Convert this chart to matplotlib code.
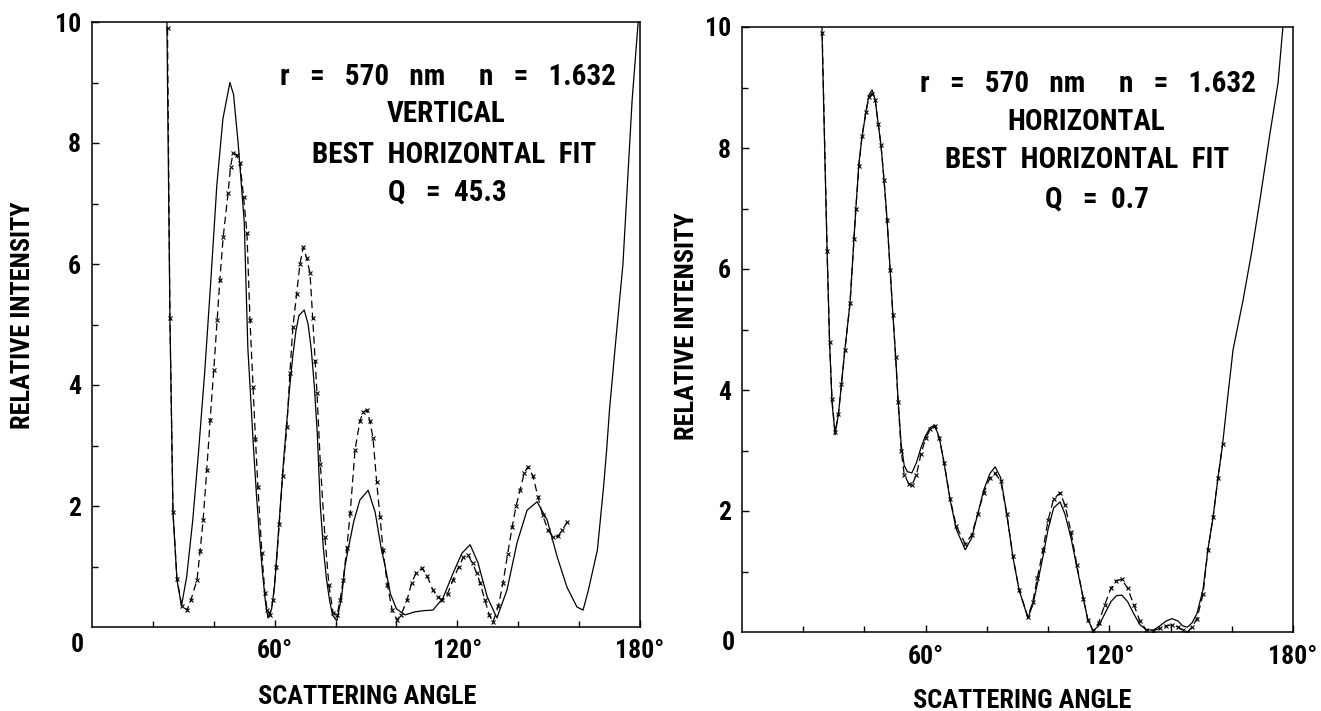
import os
import matplotlib
matplotlib.use("Agg")
import matplotlib.pyplot as plt
from matplotlib import font_manager
from matplotlib.font_manager import FontProperties

# ---------------- data ----------------
# Left panel: vertical polarisation, theory (solid) and measured (dashed)
v_theory_angle = [24.6, 25.6, 26.6, 27.9, 29.4, 31.1, 33.1, 35.0, 37.0, 39.0, 41.0, 43.0,
                  45.3, 46.5, 48.0, 50.0, 51.2, 52.0, 53.0, 54.0, 55.0, 56.0, 57.0, 57.8,
                  59.0, 60.0, 61.0, 62.0, 63.0, 64.0, 65.0, 66.0, 67.0, 68.0, 69.7, 71.0,
                  72.0, 73.0, 74.0, 75.0, 76.0, 77.0, 78.0, 79.0, 80.4, 82.0, 83.1, 84.0,
                  86.0, 88.0, 90.7, 93.0, 95.0, 96.3, 98.0, 100.0, 102.8, 106.0, 109.0, 112.0,
                  115.3, 118.6, 121.5, 124.2, 126.8, 129.8, 133.0, 136.3, 139.6, 142.9, 146.2, 149.5,
                  152.8, 156.0, 159.3, 161.3, 163.0, 166.0, 168.0, 169.0, 170.0, 171.8, 174.4, 177.4,
                  179.4]
v_theory = [10.0, 5.1, 1.9, 0.78, 0.35, 0.83, 1.77, 2.9, 4.2, 5.7, 7.3, 8.4,
            9.0, 8.8, 8.0, 6.7, 4.6, 3.9, 3.0, 2.2, 1.5, 0.9, 0.4, 0.15,
            0.3, 0.7, 1.4, 2.1, 2.8, 3.4, 4.0, 4.5, 4.9, 5.15, 5.24, 5.0,
            4.6, 4.0, 3.2, 2.0, 1.3, 0.8, 0.45, 0.2, 0.1, 0.5, 1.0, 1.25,
            1.75, 2.1, 2.26, 1.9, 1.3, 1.0, 0.55, 0.3, 0.2, 0.25, 0.27, 0.28,
            0.48, 0.89, 1.22, 1.36, 1.06, 0.5, 0.15, 0.61, 1.39, 1.93, 2.07, 1.77,
            1.16, 0.66, 0.33, 0.28, 0.6, 1.27, 2.3, 2.9, 3.6, 4.6, 6.0, 8.7,
            10.0]

v_meas_angle = [24.8, 25.6, 26.6, 27.9, 29.5, 31.2, 32.5, 34.5, 35.5, 36.5, 37.7, 38.8,
                40.0, 41.1, 42.0, 43.1, 44.7, 45.5, 46.3, 47.5, 48.6, 49.8, 50.9, 51.9,
                52.9, 53.7, 54.5, 55.8, 56.8, 57.5, 58.5, 59.5, 60.5, 61.5, 62.6, 64.0,
                65.0, 66.0, 67.2, 68.3, 69.4, 70.5, 71.6, 72.5, 73.3, 73.9, 75.0, 76.5,
                77.8, 79.2, 80.5, 81.5, 82.5, 83.7, 84.8, 86.4, 88.0, 89.0, 90.3, 91.3,
                92.3, 93.5, 94.6, 95.6, 97.0, 98.6, 100.2, 101.5, 103.5, 105.0, 106.5, 108.4,
                110.0, 112.0, 113.5, 115.0, 116.8, 118.6, 120.5, 122.0, 123.5, 125.0, 126.3, 127.5,
                129.0, 130.5, 131.7, 133.5, 135.0, 136.5, 138.0, 139.3, 140.6, 142.0, 143.2, 144.8,
                146.5, 148.0, 149.8, 151.5, 153.0, 154.5, 156.0]
v_meas = [9.9, 5.1, 1.9, 0.8, 0.35, 0.28, 0.45, 0.78, 1.25, 1.77, 2.6, 3.42,
          4.25, 5.07, 5.74, 6.45, 7.17, 7.6, 7.83, 7.8, 7.67, 7.1, 6.51, 5.07,
          3.97, 3.1, 2.31, 1.22, 0.56, 0.28, 0.2, 0.45, 1.0, 1.7, 2.5, 3.3,
          4.2, 4.96, 5.5, 6.0, 6.28, 6.1, 5.85, 5.1, 4.4, 3.87, 2.7, 1.49,
          0.7, 0.23, 0.2, 0.45, 0.78, 1.3, 1.88, 2.93, 3.4, 3.55, 3.59, 3.4,
          3.12, 2.4, 1.82, 1.27, 0.7, 0.28, 0.12, 0.2, 0.45, 0.73, 0.9, 0.97,
          0.85, 0.61, 0.5, 0.45, 0.55, 0.78, 1.0, 1.15, 1.19, 1.05, 0.9, 0.73,
          0.45, 0.2, 0.08, 0.35, 0.73, 1.2, 1.65, 2.0, 2.26, 2.55, 2.65, 2.5,
          2.15, 1.85, 1.6, 1.49, 1.5, 1.6, 1.73]

# Right panel: horizontal polarisation, theory (solid) and measured (dashed)
h_theory_angle = [26.1, 27.0, 27.8, 28.6, 29.4, 30.4, 31.5, 32.5, 33.6, 35.3, 36.6, 37.2,
                  38.2, 39.2, 40.5, 41.5, 42.5, 43.5, 44.5, 45.4, 46.4, 47.4, 48.4, 49.3,
                  50.2, 51.0, 52.0, 53.0, 54.0, 55.5, 57.0, 58.5, 60.0, 61.5, 63.0, 64.5,
                  66.0, 68.0, 70.0, 72.9, 75.0, 77.0, 79.0, 81.0, 82.7, 84.5, 86.5, 88.5,
                  90.5, 93.4, 95.0, 96.5, 98.3, 100.0, 101.8, 103.9, 105.5, 107.5, 109.4, 111.5,
                  113.0, 114.7, 116.5, 118.5, 120.5, 122.3, 124.1, 126.0, 128.0, 130.0, 132.0, 134.3,
                  136.5, 138.5, 140.5, 142.5, 144.0, 145.5, 147.0, 148.6, 150.6, 152.2, 153.9, 155.5,
                  157.0, 158.6, 160.4, 163.7, 166.6, 169.2, 172.5, 175.1, 176.7]
h_theory = [10.0, 8.0, 6.3, 4.8, 3.8, 3.26, 3.6, 4.1, 4.66, 5.44, 6.53, 7.0,
            7.75, 8.18, 8.6, 8.88, 8.96, 8.8, 8.4, 8.05, 7.47, 6.81, 5.98, 5.24,
            4.55, 3.83, 3.1, 2.75, 2.65, 2.63, 2.8, 3.05, 3.25, 3.38, 3.42, 3.2,
            2.8, 2.18, 1.7, 1.36, 1.55, 1.95, 2.35, 2.62, 2.73, 2.55, 1.95, 1.24,
            0.7, 0.23, 0.45, 0.8, 1.24, 1.7, 2.05, 2.15, 1.95, 1.55, 1.07, 0.55,
            0.2, 0.02, 0.1, 0.3, 0.5, 0.6, 0.61, 0.5, 0.3, 0.12, 0.04, 0.03,
            0.1, 0.18, 0.22, 0.18, 0.1, 0.08, 0.15, 0.3, 0.7, 1.36, 1.9, 2.55,
            3.1, 3.85, 4.66, 5.49, 6.31, 7.14, 8.25, 9.07, 10.0]

h_meas_angle = [26.2, 27.8, 28.6, 29.4, 30.4, 31.5, 32.5, 33.6, 35.3, 36.6, 37.2, 38.2,
                39.2, 40.5, 41.5, 42.5, 43.5, 44.5, 45.4, 46.4, 47.4, 48.4, 49.3, 50.2,
                51.0, 52.0, 53.0, 54.5, 55.5, 57.0, 58.5, 60.0, 61.5, 63.0, 64.5, 66.0,
                68.0, 70.0, 72.9, 75.0, 77.0, 79.0, 81.0, 82.7, 84.5, 86.5, 88.5, 90.5,
                93.4, 95.0, 96.5, 98.3, 100.0, 101.8, 103.9, 105.5, 107.5, 109.4, 111.5, 113.0,
                114.7, 116.5, 118.5, 120.5, 122.3, 124.1, 126.0, 128.0, 130.0, 132.0, 134.3, 136.5,
                138.5, 140.5, 142.5, 144.0, 145.5, 147.0, 148.6, 150.6, 152.2, 153.9, 155.5, 157.0]
h_meas = [9.9, 6.3, 4.8, 3.85, 3.3, 3.6, 4.1, 4.66, 5.44, 6.5, 7.0, 7.7,
          8.2, 8.6, 8.85, 8.9, 8.8, 8.4, 8.05, 7.47, 6.81, 5.98, 5.24, 4.55,
          3.8, 3.0, 2.6, 2.45, 2.43, 2.6, 2.95, 3.2, 3.35, 3.4, 3.2, 2.8,
          2.2, 1.75, 1.46, 1.6, 1.95, 2.3, 2.55, 2.62, 2.5, 1.95, 1.25, 0.7,
          0.25, 0.5, 0.9, 1.35, 1.85, 2.2, 2.3, 2.1, 1.65, 1.1, 0.55, 0.2,
          0.02, 0.15, 0.45, 0.72, 0.85, 0.87, 0.72, 0.45, 0.18, 0.04, 0.02, 0.06,
          0.1, 0.12, 0.08, 0.03, 0.0, 0.08, 0.22, 0.62, 1.36, 1.9, 2.55, 3.1]

x_major = [60, 120, 180]
x_major_labels = ["60°", "120°", "180°"]
x_minor = [20, 40, 80, 100, 140, 160]
y_major = [2, 4, 6, 8, 10]
y_minor = [1, 3, 5, 7, 9]

left_title = ["r   =   570   nm     n   =   1.632", "VERTICAL",
              "BEST  HORIZONTAL  FIT", "Q   =  45.3"]
right_title = ["r   =   570   nm     n   =   1.632", "HORIZONTAL",
               "BEST  HORIZONTAL  FIT", "Q   =  0.7"]
x_label = "SCATTERING ANGLE"
y_label = "RELATIVE INTENSITY"

# ---------------- font: prefer a narrow / condensed bold face ----------------
prefs = ["liberationsansnarrow-bold", "robotocondensed-bold", "opensanscondensed-bold",
         "opensans_condensed-bold", "dejavusanscondensed-bold"]
font_file = None
files = [f.fname for f in font_manager.fontManager.ttflist]
for p in prefs:
    for fn in files:
        b = os.path.basename(fn).lower().replace(" ", "")
        if b.startswith(p) and "italic" not in b and "oblique" not in b:
            font_file = fn
            break
    if font_file:
        break
if font_file is None:
    for fn in files:
        b = os.path.basename(fn).lower()
        if ("condensed" in b or "narrow" in b) and "bold" in b and "italic" not in b \
                and "oblique" not in b and "semi" not in b and "extra" not in b:
            font_file = fn
            break


def fp(size):
    if font_file:
        return FontProperties(fname=font_file, size=size)
    return FontProperties(family="DejaVu Sans", weight="bold", stretch="condensed", size=size)


W, H = 1321, 711
fig = plt.figure(figsize=(W / 100, H / 100), dpi=100)
renderer = fig.canvas.get_renderer()


def text_width(s, size):
    t = fig.text(0, 0, s, fontproperties=fp(size))
    w = t.get_window_extent(renderer).width
    t.remove()
    return w


def fit_size(s, target_w, cap_px, widen=1.1):
    sw = 20.0 * target_w / text_width(s, 20.0)
    return min(sw * widen, cap_px)


title_size = fit_size("BEST HORIZONTAL FIT", 288, 21, 1.05)
tick_size = fit_size("120°", 40, 18.5, 1.3)
label_size = fit_size(x_label, 183, 19, 1.22)


def px_axes(x0, x1, y_top, y_bot):
    return fig.add_axes([x0 / W, 1 - y_bot / H, (x1 - x0) / W, (y_bot - y_top) / H])


def style_axes(ax):
    ax.set_xlim(0, 180)
    ax.set_ylim(0, 10)
    ax.set_xticks(x_major)
    ax.set_xticklabels(x_major_labels, fontproperties=fp(tick_size))
    ax.set_xticks(x_minor, minor=True)
    ax.set_yticks(y_major)
    ax.set_yticklabels([str(v) for v in y_major], fontproperties=fp(tick_size))
    ax.set_yticks(y_minor, minor=True)
    ax.tick_params(which="both", direction="in", width=1.0, color="black")
    ax.tick_params(which="major", length=5)
    ax.tick_params(which="minor", length=4)
    ax.tick_params(axis="x", pad=9)
    ax.tick_params(axis="y", pad=8)
    for s in ax.spines.values():
        s.set_linewidth(1.1)
        s.set_color("black")


def draw(ax, ta, tv, ma, mv):
    ax.plot(ta, tv, color="black", lw=0.9, solid_joinstyle="round")
    ax.plot(ma, mv, color="black", lw=0.9, linestyle=(0, (6, 3.5)),
            marker="x", markersize=3.2, markeredgewidth=0.8)


ax1 = px_axes(92, 640, 22, 627)
style_axes(ax1)
draw(ax1, v_theory_angle, v_theory, v_meas_angle, v_meas)

ax2 = px_axes(742, 1293, 27, 632)
style_axes(ax2)
draw(ax2, h_theory_angle, h_theory, h_meas_angle, h_meas)


def ftext(x, y, s, size, **kw):
    fig.text(x / W, 1 - y / H, s, fontproperties=fp(size), **kw)


# titles (pixel centre x, baseline y)
for s, xc, yb in zip(left_title, [448, 446, 454, 447], [85, 122, 163, 200]):
    ftext(xc, yb, s, title_size, ha="center", va="baseline")
for s, xc, yb in zip(right_title, [1088, 1086, 1087, 1097], [92, 130, 168, 207]):
    ftext(xc, yb, s, title_size, ha="center", va="baseline")

# origin "0" labels
ftext(77, 652, "0", tick_size, ha="center", va="baseline")
ftext(728, 650, "0", tick_size, ha="center", va="baseline")

# axis labels
ftext(367, 704, x_label, label_size, ha="center", va="baseline")
ftext(1022, 708, x_label, label_size, ha="center", va="baseline")
ftext(23, 315, y_label, label_size, ha="center", va="center", rotation=90)
ftext(687, 326, y_label, label_size, ha="center", va="center", rotation=90)

fig.savefig("out.png", dpi=100, facecolor="white")
